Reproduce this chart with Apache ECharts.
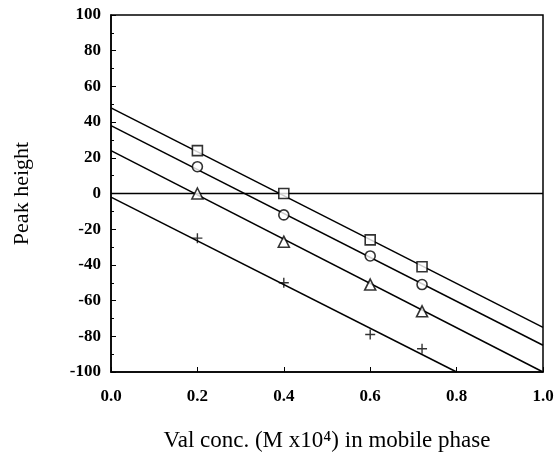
<!DOCTYPE html>
<html><head><meta charset="utf-8">
<script src="https://cdn.jsdelivr.net/npm/echarts@6/dist/echarts.min.js"></script>
<style>html,body{margin:0;padding:0;background:#fff}#c{width:557px;height:454px}</style>
</head><body><div id="c"></div>
<script>
const xTicks = [0.0, 0.2, 0.4, 0.6, 0.8, 1.0];
const yTicks = [-100, -80, -60, -40, -20, 0, 20, 40, 60, 80, 100];
const concX = [0.2, 0.4, 0.6, 0.72];
const squareY = [24, 0, -26, -41];
const circleY = [15, -12, -35, -51];
const triangleY = [0, -27, -51, -66];
const plusY = [-25, -50, -79, -87];
// fitted line end points
const squareLine = [[0, 48], [1, -75]];
const circleLine = [[0, 38], [1, -85]];
const triangleLine = [[0, 24], [1, -100]];
const plusLine = [[0, -2], [0.8, -100]];
const zeroLine = [[0, 0], [1, 0]];

const F = '"Liberation Serif", "DejaVu Serif", serif';
const pts = ys => concX.map((x, i) => [x, ys[i]]);
const lineS = d => ({type: 'line', data: d, symbol: 'none', silent: true,
  lineStyle: {color: '#000', width: 1.5}, z: 2});
const scat = (ys, sym, size, filled) => ({type: 'scatter', data: pts(ys), symbol: sym, symbolSize: size,
  itemStyle: filled ? {color: '#000', borderWidth: 0} : {color: '#fff', borderColor: '#000', borderWidth: 1.6}, z: 5});

const chart = echarts.init(document.getElementById('c'));
chart.setOption({
  animation: false,
  grid: {left: 111, top: 15, right: 14, bottom: 82, show: true, borderColor: '#000', borderWidth: 1.5,
    outerBoundsMode: 'none', containLabel: false},
  xAxis: {type: 'value', min: 0, max: 1, interval: 0.2,
    name: 'Val conc. (M x10\u2074) in mobile phase', nameLocation: 'middle', nameGap: 57,
    nameTextStyle: {fontFamily: F, fontSize: 23, color: '#000'},
    axisLine: {onZero: false, lineStyle: {color: '#000', width: 1.5}},
    axisTick: {inside: true, length: 5, lineStyle: {color: '#000'}},
    axisLabel: {fontFamily: F, fontWeight: 'bold', fontSize: 17, color: '#000', margin: 16,
      formatter: v => v.toFixed(1)},
    splitLine: {show: false}},
  yAxis: {type: 'value', min: -100, max: 100, interval: 20,
    name: 'Peak height', nameLocation: 'middle', nameGap: 78,
    nameTextStyle: {fontFamily: F, fontSize: 22, color: '#000'},
    axisLine: {onZero: false, lineStyle: {color: '#000', width: 1.5}},
    axisTick: {inside: true, length: 5, lineStyle: {color: '#000'}},
    minorTick: {show: true, splitNumber: 2, length: 3, lineStyle: {color: '#000'}},
    axisLabel: {fontFamily: F, fontWeight: 'bold', fontSize: 17, color: '#000', margin: 10},
    splitLine: {show: false}},
  series: [
    lineS(zeroLine), lineS(squareLine), lineS(circleLine), lineS(triangleLine), lineS(plusLine),
    scat(squareY, 'rect', 10, false),
    scat(circleY, 'circle', 10, false),
    scat(triangleY, 'triangle', 11, false),
    scat(plusY, 'path://M4.3,0h1.4v4.3h4.3v1.4h-4.3v4.3h-1.4v-4.3h-4.3v-1.4h4.3z', 10, true)
  ]
});
</script></body></html>
